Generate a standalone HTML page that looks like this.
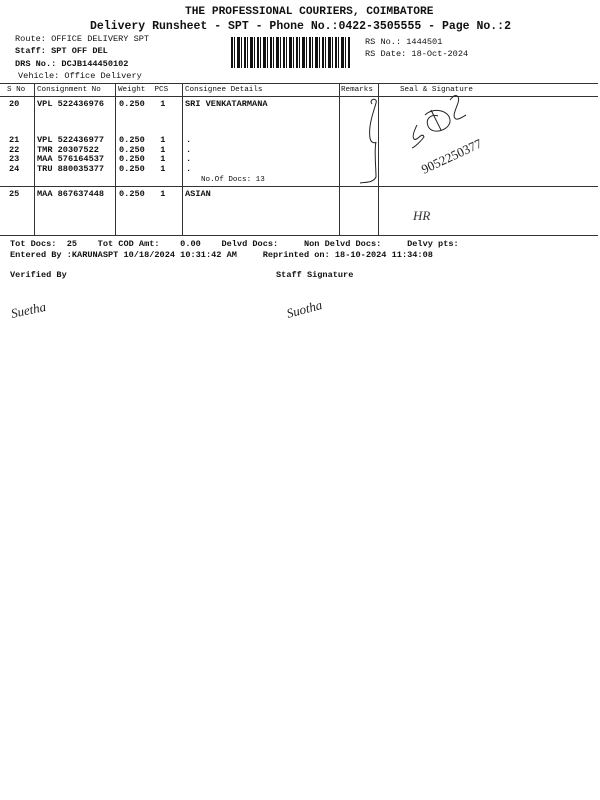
<!DOCTYPE html>
<html><head><meta charset="utf-8"><style>
body{margin:0;width:600px;height:800px;background:#fff;position:relative;overflow:hidden;font-family:"Liberation Mono",monospace;color:#111}
.t{position:absolute;white-space:pre;font-size:8.6px;line-height:10px}
.b{font-weight:bold}
.h{position:absolute;left:0;width:598px;height:1.3px;background:#333}
.v{position:absolute;width:1.2px;background:#333}
</style></head><body>
<div class="t b" style="left:185px;top:6px;font-size:11.2px;line-height:13px">THE PROFESSIONAL COURIERS, COIMBATORE</div>
<div class="t b" style="left:90px;top:20px;font-size:11.5px;line-height:13px">Delivery Runsheet - SPT - Phone No.:0422-3505555 - Page No.:2</div>
<div class="t" style="left:15px;top:34px">Route: OFFICE DELIVERY SPT</div>
<div class="t b" style="left:15px;top:46px">Staff: SPT OFF DEL</div>
<div class="t b" style="left:15px;top:59px">DRS No.: DCJB144450102</div>
<div class="t" style="left:18px;top:71px">Vehicle: Office Delivery</div>
<div class="t" style="left:365px;top:37px">RS No.: 1444501</div>
<div class="t" style="left:365px;top:49px">RS Date: 18-Oct-2024</div>
<div style="position:absolute;left:231px;top:37px;width:120px;height:31px;background:repeating-linear-gradient(90deg,#111 0 2px,#fff 2px 3px,#111 3px 4px,#fff 4px 6px,#111 6px 9px,#fff 9px 10px,#111 10px 11px,#fff 11px 13px)"></div>

<div class="h" style="top:83px"></div>
<div class="h" style="top:96px"></div>
<div class="h" style="top:186px"></div>
<div class="h" style="top:235px"></div>
<div class="v" style="left:34px;top:83px;height:153px"></div>
<div class="v" style="left:115px;top:83px;height:153px"></div>
<div class="v" style="left:182px;top:83px;height:153px"></div>
<div class="v" style="left:339px;top:83px;height:153px"></div>
<div class="v" style="left:378px;top:83px;height:153px"></div>

<div class="t" style="left:7px;top:85px;font-size:7.6px">S No</div>
<div class="t" style="left:37px;top:85px;font-size:7.6px">Consignment No</div>
<div class="t" style="left:118px;top:85px;font-size:7.6px">Weight  PCS</div>
<div class="t" style="left:185px;top:85px;font-size:7.6px">Consignee Details</div>
<div class="t" style="left:341px;top:85px;font-size:7.6px">Remarks</div>
<div class="t" style="left:400px;top:85px;font-size:7.6px">Seal &amp; Signature</div>

<div class="t b" style="left:9px;top:99px">20</div>
<div class="t b" style="left:37px;top:99px">VPL 522436976</div>
<div class="t b" style="left:119px;top:99px">0.250   1</div>
<div class="t b" style="left:185px;top:99px">SRI VENKATARMANA</div>

<div class="t b" style="left:9px;top:136px;line-height:9.7px">21
22
23
24</div>
<div class="t b" style="left:37px;top:136px;line-height:9.7px">VPL 522436977
TMR 20307522
MAA 576164537
TRU 880035377</div>
<div class="t b" style="left:119px;top:136px;line-height:9.7px">0.250   1
0.250   1
0.250   1
0.250   1</div>
<div class="t b" style="left:186px;top:136px;line-height:9.7px">.
.
.
.</div>
<div class="t" style="left:201px;top:175px;font-size:7.6px">No.Of Docs: 13</div>

<div class="t b" style="left:9px;top:189px">25</div>
<div class="t b" style="left:37px;top:189px">MAA 867637448</div>
<div class="t b" style="left:119px;top:189px">0.250   1</div>
<div class="t b" style="left:185px;top:189px">ASIAN</div>

<div class="t b" style="left:10px;top:239px">Tot Docs:  25    Tot COD Amt:    0.00    Delvd Docs:     Non Delvd Docs:     Delvy pts:</div>
<div class="t b" style="left:10px;top:250px">Entered By :KARUNASPT 10/18/2024 10:31:42 AM     Reprinted on: 18-10-2024 11:34:08</div>
<div class="t b" style="left:10px;top:270px">Verified By</div>
<div class="t b" style="left:276px;top:270px">Staff Signature</div>

<svg style="position:absolute;left:0;top:0" width="600" height="800" fill="none" stroke="#222" stroke-width="1">
<path d="M372 104c-4-5 6-7 4-1-2 8-8 22-6 35 1 6 6 5 6 4-2 8 0 25 0 35-3 6-10 5-16 6"/>
<path d="M417 125c-3 6-5 12-3 14 3 3 8-8 10-2-3 4-9 10-12 11M425 115c8-8 24-5 25 5 1 10-18 16-22 6-3-8 4-12 10-10M431 110l10 20M450 100c6-8 10-4 8 3-3 8-6 14-2 16 3 1 8-3 10-4"/>
<text x="424" y="174" font-family="Liberation Serif,serif" font-size="13" fill="#222" stroke="none" transform="rotate(-25 424 174)">9052250377</text>
<text x="413" y="220" font-family="Liberation Serif,serif" font-style="italic" font-size="13" fill="#333" stroke="none">HR</text>
<text x="12" y="318" font-family="Liberation Serif,serif" font-style="italic" font-size="13" fill="#222" stroke="none" transform="rotate(-12 12 318)">Suetha</text>
<text x="288" y="318" font-family="Liberation Serif,serif" font-style="italic" font-size="13" fill="#222" stroke="none" transform="rotate(-15 288 318)">Suotha</text>
</svg>
</body></html>
